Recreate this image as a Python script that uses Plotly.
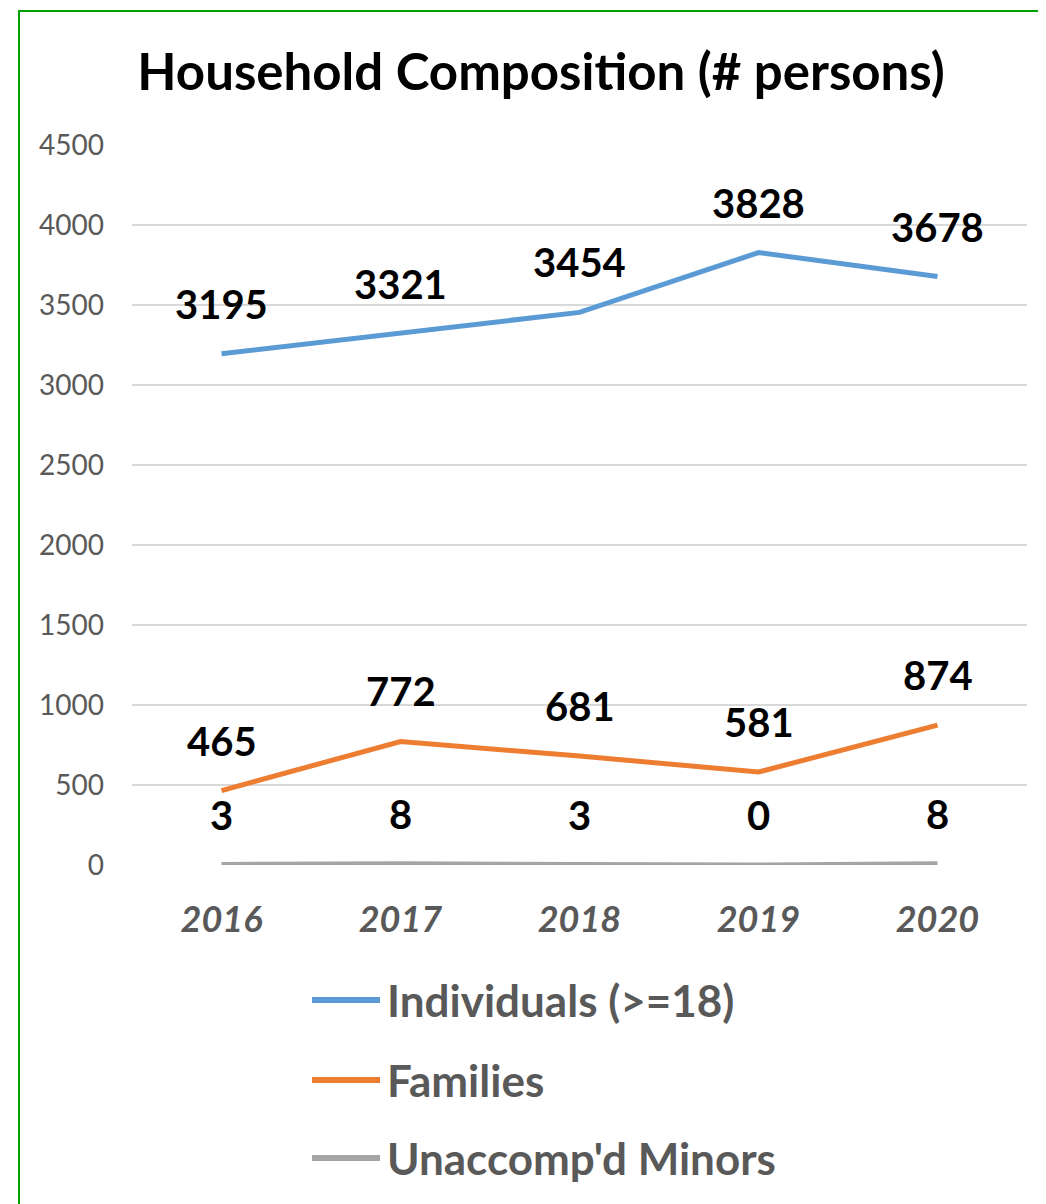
import plotly.graph_objects as go

years = [2016, 2017, 2018, 2019, 2020]
year_labels = ["2016", "2017", "2018", "2019", "2020"]
individuals = [3195, 3321, 3454, 3828, 3678]
families = [465, 772, 681, 581, 874]
minors = [3, 8, 3, 0, 8]
series_names = ["Individuals (>=18)", "Families", "Unaccomp'd Minors"]
series_colors = ["#5B9BD5", "#ED7D31", "#A5A5A5"]
y_ticks = [0, 500, 1000, 1500, 2000, 2500, 3000, 3500, 4000, 4500]

W, H = 1046, 1204
OFF = 8  # page body margin
L, R, T, B = 132 - OFF, 1027 - OFF, 145 - OFF, 865 - OFF  # plot area pixels

def px(x):
    return (x - OFF - L) / (R - L)

def py(y):
    return (B - (y - OFF)) / (B - T)

FONT = "Lato"
fig = go.Figure()
all_series = [individuals, families, minors]
for name, vals, col in zip(series_names, all_series, series_colors):
    fig.add_trace(go.Scatter(x=years, y=vals, mode="lines", name=name,
                             line=dict(color=col, width=5), showlegend=False))
    for xv, yv in zip(years, vals):
        fig.add_annotation(x=xv, y=yv, xref="x", yref="y", text=str(yv), showarrow=False,
                           yshift=50, yanchor="middle",
                           font=dict(family=FONT, size=40, color="#000000", weight="bold"))

# manual legend
legend_y = [1000, 1080, 1158]
for name, col, ly in zip(series_names, series_colors, legend_y):
    fig.add_shape(type="line", xref="paper", yref="paper",
                  x0=px(312), x1=px(380), y0=py(ly), y1=py(ly),
                  line=dict(color=col, width=6))
    fig.add_annotation(xref="paper", yref="paper", x=px(385), y=py(ly),
                       xanchor="left", yanchor="middle", showarrow=False,
                       text=name,
                       font=dict(family=FONT, size=44, color="#595959", weight="bold"))

# green border
fig.add_shape(type="rect", xref="paper", yref="paper",
              x0=px(19), x1=px(1100), y0=py(1260), y1=py(11),
              line=dict(color="#00A000", width=2), fillcolor="rgba(0,0,0,0)",
              layer="below")

fig.update_layout(
    width=W, height=H,
    margin=dict(l=L, r=W - R, t=T, b=H - B),
    paper_bgcolor="white", plot_bgcolor="white",
    title=dict(text="Household Composition (# persons)", xref="paper", x=px(541),
               xanchor="center", yref="container",
               y=1 - (72 - OFF) / H, yanchor="middle",
               font=dict(family=FONT, size=51, color="#000000", weight="bold")),
    xaxis=dict(range=[2015.5, 2020.5], tickvals=years, ticktext=year_labels,
               showgrid=False, zeroline=False,
               showline=False, ticks="", ticklabelstandoff=30,
               tickfont=dict(family=FONT, size=36, color="#595959", weight="bold",
                             style="italic")),
    yaxis=dict(range=[0, 4500], tickvals=y_ticks, showgrid=True, gridcolor="#D9D9D9",
               gridwidth=2, zeroline=False, showline=False, ticks="",
               ticklabelstandoff=27,
               tickfont=dict(family=FONT, size=28, color="#595959")),
    showlegend=False,
)

fig.write_html("out.html")
